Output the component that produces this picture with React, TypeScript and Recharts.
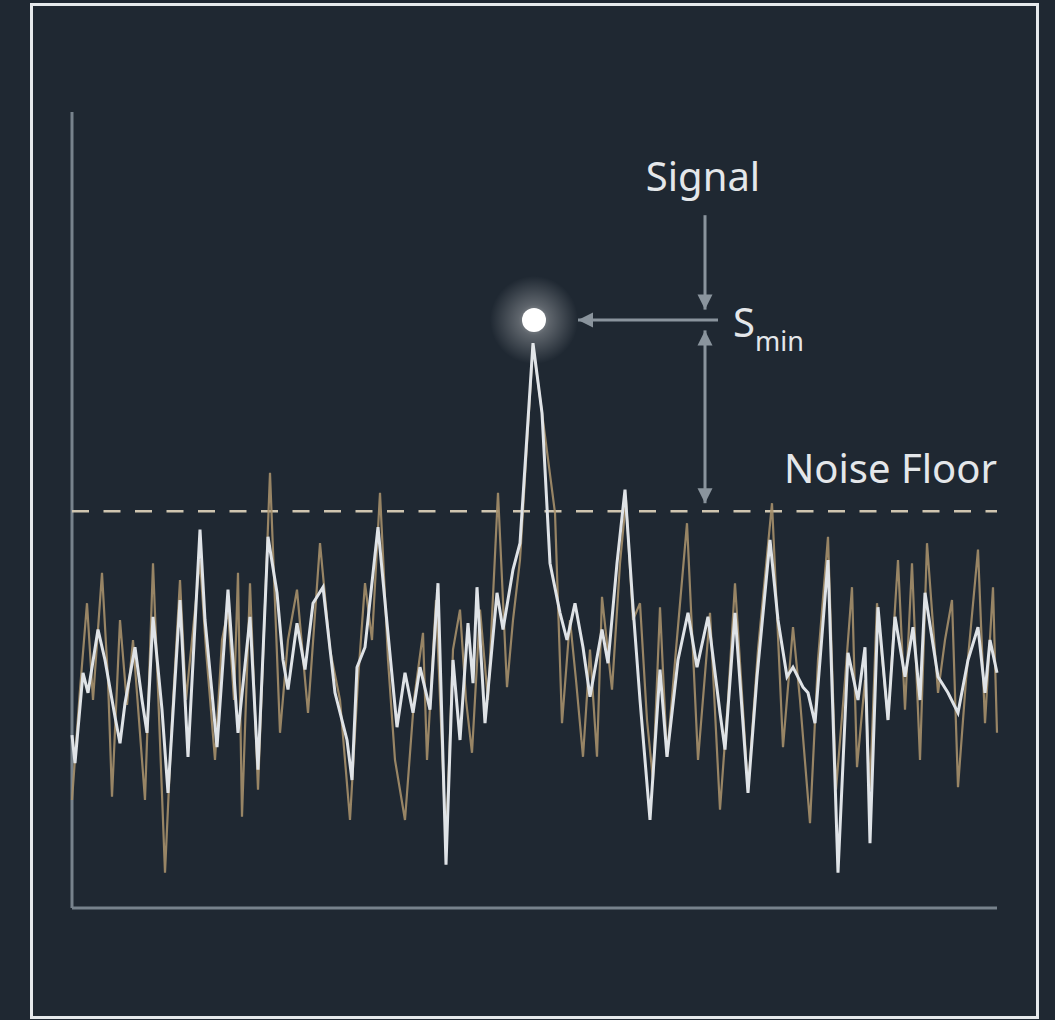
import * as React from "react";
import { LineChart, Line, XAxis, YAxis, ReferenceLine, ReferenceDot } from "recharts";

// positions along the trace (0..925) and heights (0..100)
const whiteX = [
  0, 3, 11, 16, 26, 33, 43, 48, 53, 63, 70, 75, 81, 90, 96, 108, 116, 128, 133, 140, 145, 156, 166, 178,
  186, 196, 205, 211, 216, 225, 233, 241, 251, 263, 275, 280, 285, 293, 306, 315, 325, 333, 341, 348, 358,
  366, 374, 381, 388, 396, 401, 405, 413, 425, 431, 441, 448, 461, 470, 478, 488, 495, 503, 511, 518, 530,
  536, 545, 553, 561, 568, 578, 588, 595, 606, 616, 625, 636, 648, 653, 663, 676, 685, 698, 706, 715, 721,
  731, 736, 743, 756, 766, 776, 786, 793, 798, 806, 816, 823, 833, 841, 848, 853, 866, 876, 886, 896, 906,
  913, 918, 925,
];
const whiteV = [
  21.6, 18.1, 29.4, 26.9, 34.8, 31.0, 23.9, 20.6, 25.6, 32.6, 26.0, 21.9, 36.4, 24.8, 14.4, 38.5, 18.9, 47.3,
  36.0, 26.9, 20.1, 39.8, 21.9, 36.4, 17.3, 46.4, 39.4, 31.0, 27.3, 35.6, 29.8, 38.1, 40.1, 26.9, 21.0, 16.0,
  30.1, 32.6, 47.6, 35.6, 22.6, 29.4, 24.4, 30.1, 24.8, 40.6, 5.4, 31.0, 21.0, 35.6, 28.1, 40.1, 23.1, 39.4,
  34.8, 42.3, 45.6, 70.6, 61.9, 43.1, 36.9, 33.5, 38.1, 32.6, 26.4, 34.8, 30.6, 43.1, 52.3, 37.6, 26.0, 11.0,
  29.8, 18.9, 31.0, 36.9, 30.1, 36.4, 24.4, 19.8, 36.9, 14.4, 28.9, 46.0, 36.0, 28.9, 30.1, 27.6, 26.9, 23.1,
  43.5, 4.4, 31.9, 26.0, 32.6, 8.1, 37.6, 23.5, 36.4, 28.9, 35.1, 26.0, 39.4, 28.9, 26.9, 24.4, 31.0, 35.1,
  26.9, 33.5, 29.4,
];
const tanX = [
  0, 8, 15, 21, 30, 36, 40, 48, 55, 61, 73, 81, 86, 93, 100, 108, 114, 120, 128, 134, 143, 150, 156, 162,
  166, 170, 178, 186, 198, 208, 216, 225, 236, 248, 258, 268, 278, 286, 293, 300, 308, 316, 323, 333, 342,
  351, 355, 364, 374, 381, 388, 394, 400, 408, 416, 426, 435, 441, 448, 461, 470, 483, 490, 498, 504, 511,
  518, 525, 530, 540, 548, 554, 561, 568, 575, 581, 588, 595, 604, 615, 626, 638, 648, 656, 663, 676, 686,
  700, 711, 721, 728, 738, 746, 756, 764, 773, 780, 785, 793, 798, 805, 816, 826, 833, 840, 848, 855, 866,
  873, 880, 886, 894, 906, 913, 921, 925,
];
const tanV = [
  13.5, 27.3, 38.1, 26.0, 41.9, 28.5, 13.9, 36.0, 25.4, 33.5, 13.5, 43.1, 27.3, 4.4, 23.5, 41.0, 26.0, 33.5,
  43.5, 32.3, 18.5, 33.5, 37.3, 26.0, 41.9, 11.4, 40.6, 14.8, 54.4, 21.9, 33.5, 39.8, 24.4, 45.6, 32.3, 26.0,
  11.0, 28.5, 40.6, 33.5, 51.9, 31.0, 18.5, 11.0, 26.0, 34.4, 18.5, 38.5, 7.9, 32.3, 37.3, 26.0, 19.4, 37.3,
  26.0, 51.9, 27.6, 36.0, 43.5, 70.4, 61.9, 49.4, 23.1, 36.0, 28.5, 18.9, 32.3, 18.9, 38.9, 27.3, 43.1, 51.0,
  36.0, 38.1, 23.5, 16.0, 37.6, 18.9, 32.3, 48.1, 18.5, 36.9, 12.3, 26.0, 40.6, 14.8, 32.3, 50.6, 20.1, 35.1,
  26.0, 10.6, 31.0, 46.4, 14.8, 28.5, 40.1, 17.6, 28.5, 14.8, 38.1, 23.5, 43.5, 24.8, 43.1, 18.5, 45.6, 26.9,
  33.5, 38.5, 15.1, 28.5, 44.8, 23.1, 40.1, 21.9,
];

const noiseFloor = 49.6;
const signalPeak = { x: 462, y: 73.5 };

const whiteData = whiteX.map((x, i) => ({ x, v: whiteV[i] }));
const tanData = tanX.map((x, i) => ({ x, v: tanV[i] }));

const BG = "#1f2832";
const TEXT = "#e4e7ea";
const ARROW = "#8a949d";
const AXIS = "#77828c";
const FONT = "'Noto Sans', 'Open Sans', sans-serif";

function head(x: number, y: number, fromX: number, fromY: number) {
  const a = Math.atan2(y - fromY, x - fromX);
  const len = 15;
  const w = 7.5;
  const bx = x - len * Math.cos(a);
  const by = y - len * Math.sin(a);
  const px = -Math.sin(a) * w;
  const py = Math.cos(a) * w;
  return `${x},${y} ${bx + px},${by + py} ${bx - px},${by - py}`;
}

function Arrow({ x1, y1, x2, y2, both }: any) {
  if (x1 == null || y1 == null) return null;
  return (
    <g>
      <line x1={x1} y1={y1} x2={x2} y2={y2} stroke={ARROW} strokeWidth={3} />
      <polygon points={head(x2, y2, x1, y1)} fill={ARROW} />
      {both && <polygon points={head(x1, y1, x2, y2)} fill={ARROW} />}
    </g>
  );
}

function GlowDot({ cx, cy }: any) {
  return (
    <g>
      <circle cx={cx} cy={cy} r={44} fill="url(#glow)" />
      <circle cx={cx} cy={cy} r={12} fill="#ffffff" />
    </g>
  );
}

export default function App() {
  return (
    <div style={{ position: "relative", width: 1055, height: 1020, background: BG, overflow: "hidden" }}>
      <style>{`body{margin:0;background:${BG};}`}</style>
      <LineChart
        width={1055}
        height={1020}
        margin={{ top: 112, right: 58, left: 72, bottom: 112 }}
        style={{ position: "absolute", left: 0, top: 0 }}
      >
        <defs>
          <radialGradient id="glow">
            <stop offset="0%" stopColor="#ffffff" stopOpacity={0.6} />
            <stop offset="35%" stopColor="#ffffff" stopOpacity={0.28} />
            <stop offset="100%" stopColor="#ffffff" stopOpacity={0} />
          </radialGradient>
          <filter id="soft" x="-5%" y="-5%" width="110%" height="110%">
            <feGaussianBlur stdDeviation="0.6" />
          </filter>
        </defs>
        <XAxis type="number" dataKey="x" domain={[0, 925]} hide />
        <YAxis type="number" domain={[0, 99.5]} hide />
        <ReferenceLine y={0} stroke={AXIS} strokeWidth={3} />
        <ReferenceLine x={0} stroke={AXIS} strokeWidth={3} />
        <ReferenceLine y={noiseFloor} stroke="#cfc5b0" strokeWidth={2.5} strokeDasharray="17 14.5" />
        <Line
          data={tanData}
          dataKey="v"
          type="linear"
          stroke="#a58f6a"
          strokeOpacity={0.9}
          strokeWidth={2.2}
          dot={false}
          isAnimationActive={false}
        />
        <Line
          data={whiteData}
          dataKey="v"
          type="linear"
          stroke="#dfe3e7"
          strokeWidth={3}
          dot={false}
          isAnimationActive={false}
        />
        <ReferenceLine
          segment={[{ x: 633, y: 86.6 }, { x: 633, y: 74.8 }]}
          shape={(p: any) => <Arrow {...p} />}
        />
        <ReferenceLine
          segment={[{ x: 646, y: 73.5 }, { x: 506, y: 73.5 }]}
          shape={(p: any) => <Arrow {...p} />}
        />
        <ReferenceLine
          segment={[{ x: 633, y: 72.2 }, { x: 633, y: 50.6 }]}
          shape={(p: any) => <Arrow {...p} both />}
        />
        <ReferenceDot x={signalPeak.x} y={signalPeak.y} shape={(p: any) => <GlowDot {...p} />} />
        <ReferenceDot
          x={631}
          y={89.6}
          shape={(p: any) => (
            <text x={p.cx} y={p.cy} textAnchor="middle" fill={TEXT} fontSize={40} fontFamily={FONT}>
              Signal
            </text>
          )}
        />
        <ReferenceDot
          x={661}
          y={71.4}
          shape={(p: any) => (
            <text x={p.cx} y={p.cy} fill={TEXT} fontFamily={FONT}>
              <tspan fontSize={40}>S</tspan>
              <tspan fontSize={27} dy={14}>
                min
              </tspan>
            </text>
          )}
        />
        <ReferenceDot
          x={925}
          y={53.1}
          shape={(p: any) => (
            <text x={p.cx} y={p.cy} textAnchor="end" fill={TEXT} fontSize={40} fontFamily={FONT}>
              Noise Floor
            </text>
          )}
        />
      </LineChart>
      <div
        style={{
          position: "absolute",
          left: 30,
          top: 3,
          width: 1009,
          height: 1016,
          boxSizing: "border-box",
          border: "3px solid #e6e9ec",
          pointerEvents: "none",
        }}
      />
    </div>
  );
}
